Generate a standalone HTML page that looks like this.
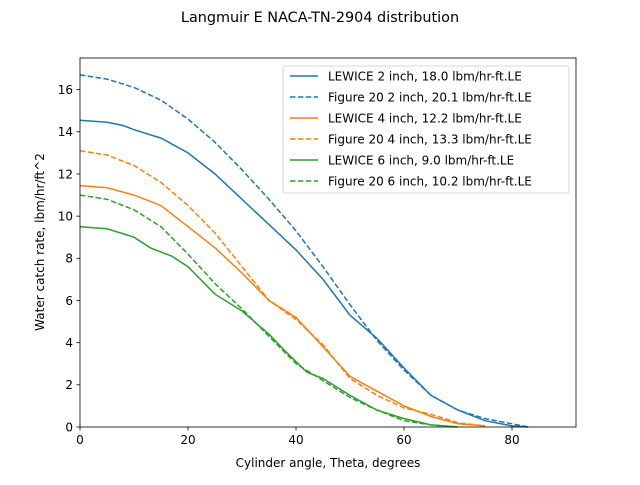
<!DOCTYPE html>
<html><head><meta charset="utf-8"><style>
body{margin:0;background:#fff}
text{font-family:"DejaVu Sans","Liberation Sans",sans-serif;fill:#000}
</style></head><body>
<svg id="s" width="640" height="480" xmlns="http://www.w3.org/2000/svg">
<rect width="640" height="480" fill="#fff"/>
<text x="320" y="22" font-size="14.4" text-anchor="middle">Langmuir E NACA-TN-2904 distribution</text>
<g id="plot"></g>
<rect x="80" y="58" width="496" height="369" fill="none" stroke="#000" stroke-width="0.8"/>
<g id="ticks" font-size="12"></g>
<text x="328" y="467" font-size="12" text-anchor="middle">Cylinder angle, Theta, degrees</text>
<text transform="translate(44,242) rotate(-90)" font-size="12" text-anchor="middle">Water catch rate, lbm/hr/ft^2</text>
<rect x="283" y="66" width="286" height="127" rx="2" fill="#fff" fill-opacity="0.8" stroke="#ccc" stroke-width="0.8"/>
<g id="leg" font-size="12"></g>
</svg>
<script>
var X=function(v){return 80+v*5.4},Y=function(v){return 427-v*21.086};
var C=["#1f77b4","#1f77b4","#ff7f0e","#ff7f0e","#2ca02c","#2ca02c"];
var D=[
[[0,14.55],[5,14.45],[8,14.3],[10,14.1],[15,13.7],[20,13.0],[25,12.0],[30,10.8],[35,9.6],[40,8.4],[45,7.0],[50,5.3],[55,4.2],[60,2.8],[65,1.5],[70,0.8],[75,0.3],[80,0.05],[83,0]],
[[0,16.7],[5,16.5],[10,16.1],[15,15.5],[20,14.6],[25,13.5],[30,12.2],[35,10.8],[40,9.3],[45,7.6],[50,5.8],[55,4.1],[60,2.7],[65,1.5],[70,0.8],[75,0.4],[80,0.15],[83,0]],
[[0,11.45],[5,11.35],[10,11.0],[15,10.5],[20,9.5],[25,8.5],[30,7.3],[35,6.0],[40,5.2],[45,3.8],[50,2.4],[55,1.7],[60,1.0],[65,0.5],[70,0.15],[75,0.05]],
[[0,13.1],[5,12.9],[10,12.4],[15,11.6],[20,10.5],[25,9.2],[30,7.6],[35,6.0],[40,5.1],[45,3.9],[50,2.3],[55,1.5],[60,0.9],[65,0.6],[70,0.2],[75,0.05]],
[[0,9.5],[5,9.4],[10,9.0],[13,8.5],[17,8.1],[20,7.6],[25,6.3],[30,5.5],[35,4.4],[38,3.6],[42,2.6],[45,2.3],[50,1.5],[55,0.8],[60,0.4],[65,0.1],[70,0]],
[[0,11.0],[5,10.8],[10,10.3],[15,9.5],[20,8.2],[25,6.8],[30,5.6],[35,4.3],[40,3.0],[45,2.2],[50,1.4],[55,0.8],[60,0.3],[65,0.1],[70,0]]];
var L=["LEWICE 2 inch, 18.0 lbm/hr-ft.LE","Figure 20 2 inch, 20.1 lbm/hr-ft.LE","LEWICE 4 inch, 12.2 lbm/hr-ft.LE","Figure 20 4 inch, 13.3 lbm/hr-ft.LE","LEWICE 6 inch, 9.0 lbm/hr-ft.LE","Figure 20 6 inch, 10.2 lbm/hr-ft.LE"];
var h="",t="",g="";
D.forEach(function(d,i){var p=d.map(function(q){return X(q[0]).toFixed(1)+","+Y(q[1]).toFixed(1)}).join(" ");
h+='<polyline points="'+p+'" fill="none" stroke="'+C[i]+'" stroke-width="1.5"'+(i%2?' stroke-dasharray="5.5,2.4"':'')+'/>';
var y=76+i*21;
g+='<line x1="290" y1="'+y+'" x2="318" y2="'+y+'" stroke="'+C[i]+'" stroke-width="1.5"'+(i%2?' stroke-dasharray="5.5,2.4"':'')+'/><text x="328" y="'+(y+4.5)+'">'+L[i]+'</text>';});
for(var v=0;v<=80;v+=20){var x=X(v);t+='<line x1="'+x+'" y1="427" x2="'+x+'" y2="430.5" stroke="#000" stroke-width="0.8"/><text x="'+x+'" y="444" text-anchor="middle">'+v+'</text>';}
for(var v=0;v<=16;v+=2){var y=Y(v);t+='<line x1="76.5" y1="'+y+'" x2="80" y2="'+y+'" stroke="#000" stroke-width="0.8"/><text x="73" y="'+(y+4.3)+'" text-anchor="end">'+v+'</text>';}
document.getElementById("plot").innerHTML=h;
document.getElementById("ticks").innerHTML=t;
document.getElementById("leg").innerHTML=g;
</script>
</body></html>
